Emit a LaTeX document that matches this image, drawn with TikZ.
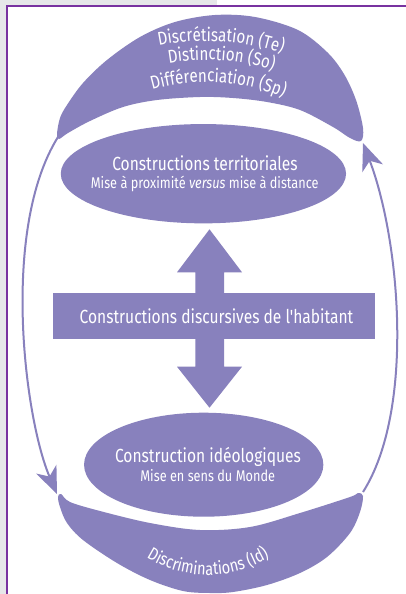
\documentclass[tikz,border=0pt]{standalone}
\usepackage{fontspec}
\setmainfont{Fira Sans}[FakeStretch=0.82]
\newfontfamily\basef{Fira Sans}[FakeStretch=0.82]
\usetikzlibrary{arrows.meta,decorations.text,shapes.geometric}
\definecolor{lav}{RGB}{136,129,189}
\definecolor{framec}{RGB}{120,50,160}
\definecolor{bggray}{RGB}{230,231,233}
\tikzset{
  blob/.style={fill=lav, draw=none},
  oval/.style={ellipse, fill=lav, draw=none, inner sep=0pt},
  ttl/.style={text=white, font=\fontsize{19}{22}\selectfont, anchor=base, inner sep=0pt},
  subt/.style={text=white, font=\fontsize{15.5}{18}\selectfont, anchor=base, inner sep=0pt},
  conn/.style={draw=lav, line width=2pt, -{Stealth[length=27pt,width=22pt,inset=8pt]}},
  arctext/.style={decorate, decoration={text along path, text align=center, text color=white}},
}
\begin{document}
\begin{tikzpicture}[x=1pt,y=-1pt]
\useasboundingbox (0,0) rectangle (406,594);
\fill[white] (0,0) rectangle (406,594);
\fill[bggray] (0,0) rectangle (7,594);
\fill[bggray] (0,0) rectangle (217,6);
\draw[framec, line width=1.4pt] (7,594) -- (7,6) -- (406,6);

% top crescent
\fill[blob] plot[smooth cycle, tension=0.55] coordinates {
  (57,134) (60,118) (67,105) (83,83) (107,60) (140,37) (175,22) (215,15) (255,17)
  (298,30) (327,52) (344,74) (356,100) (363,128) (361,141)
  (350,138) (333,127) (300,110) (267,102) (233,98) (200,97) (157,100) (123,107) (90,121) (68,133) (59,139)};
% bottom crescent
\fill[blob] plot[smooth cycle, tension=0.55] coordinates {
  (58,497) (60,507) (67,523) (83,540) (117,563) (150,580) (183,591) (210,593) (233,592) (267,585)
  (300,573) (327,557) (350,533) (360,512) (363,496) (358,493)
  (350,497) (300,513) (250,527) (200,530) (150,523) (100,511) (70,502) (61,494)};

% curved texts
\path[arctext, decoration={text={|\fontsize{18.5}{20}\selectfont|Discrétisation (Te)}}]
  ([shift={(238.6:239)}]206,280) arc[start angle=238.6, end angle=308.6, radius=239];
\path[arctext, decoration={text={|\fontsize{18.5}{20}\selectfont|Distinction (So)}}]
  ([shift={(239:220)}]206,280) arc[start angle=239, end angle=309, radius=220];
\path[arctext, decoration={text={|\fontsize{18.5}{20}\selectfont|Différenciation (Sp)}}]
  ([shift={(238.6:198)}]206,280) arc[start angle=238.6, end angle=308.6, radius=198];
\path[arctext, decoration={text={|\fontsize{17.8}{20}\selectfont|Discriminations (Id)}}]
  ([shift={(150:116)}]208,459) arc[start angle=150, end angle=30, radius=116];

% ellipses
\node[oval, minimum width=285.3pt, minimum height=99.3pt] (terr) at (203.4,173.7) {};
\node[oval, minimum width=239.3pt, minimum height=104pt] (ideo) at (203.7,464.7) {};
\node[ttl] (terrT) at (205,170) {Constructions territoriales};
\node[subt] (terrS) at (204.7,188.3) {Mise à proximité \textit{versus} mise à distance};
\node[ttl] (ideoT) at (208,462.7) {Construction idéologiques};
\node[subt] (ideoS) at (207.7,481.7) {Mise en sens du Monde};

% double arrow
\coordinate (upTip) at (209.5,229.3);
\coordinate (dnTip) at (209.5,407.7);
\fill[lav] (upTip) -- (242,272.3) -- (224,272.3) -- (224,366.7) -- (242,366.7) -- (dnTip)
  -- (177,366.7) -- (195.3,366.7) -- (195.3,272.3) -- (177,272.3) -- cycle;

% central rectangle
\node[fill=lav, minimum width=322pt, minimum height=46pt, inner sep=0pt] (mid) at (214,316.3) {};
\node[ttl, font=\basef\fontsize{19}{22}\selectfont] (midT) at (216.5,323.5) {Constructions discursives de l'habitant};

% connectors
\coordinate (tlTip) at (58,137);
\coordinate (blTip) at (57,494);
\coordinate (brTip) at (363,492);
\coordinate (trTip) at (363,143);
\draw[conn] (tlTip) .. controls (0,230) and (25,420) .. (blTip);
\draw[conn] (brTip) .. controls (415,410) and (400,240) .. (trTip);
\end{tikzpicture}
\end{document}
